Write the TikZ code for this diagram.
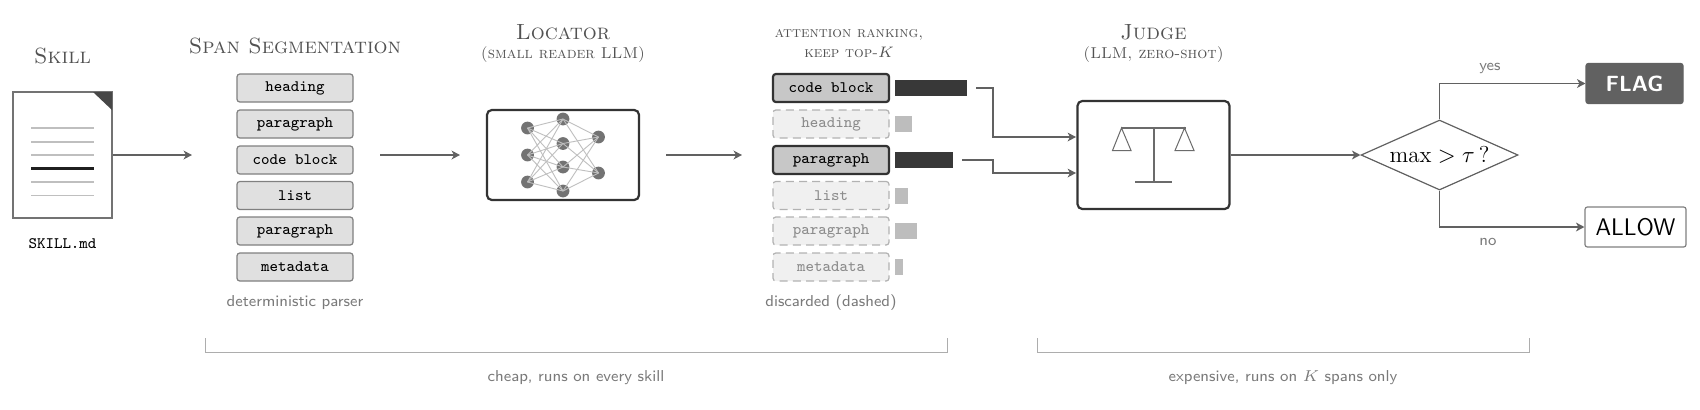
\documentclass[tikz,border=0pt]{standalone}
\usepackage{fix-cm}
\usepackage{amsmath}
\usepackage{fontspec}
\usetikzlibrary{arrows.meta,shapes.geometric}

\begin{document}
\begin{tikzpicture}[
  x=0.5pt,y=-0.5pt,
  >={Stealth[length=4.2pt,width=4.4pt,inset=1.2pt]},
  flow/.style={->,draw=black!62,line width=0.75pt},
  note/.style={text=black!52,font=\sffamily\fontsize{7.9}{9}\selectfont,inner sep=0pt},
  title/.style={text=black!68,font=\scshape\fontsize{11}{13}\selectfont,inner sep=0pt},
  subtitle/.style={text=black!68,font=\scshape\fontsize{7.9}{10}\selectfont,inner sep=0pt},
  spanbox/.style={draw=black!50,fill=black!12,line width=0.6pt,rounded corners=1.4pt,
    minimum width=58pt,minimum height=14pt,inner sep=0pt,font=\ttfamily\fontsize{8}{9}\selectfont},
  keepbox/.style={spanbox,draw=black!80,fill=black!22,line width=1.1pt},
  dropbox/.style={spanbox,draw=black!30,fill=black!6,dash pattern=on 4pt off 2.6pt,text=black!45},
  keepbar/.style={anchor=west,fill=black!78,minimum height=8pt,inner sep=0pt},
  dropbar/.style={anchor=west,fill=black!26,minimum height=8pt,inner sep=0pt},
  panel/.style={draw=black!80,fill=white,line width=1.1pt,rounded corners=2.4pt,inner sep=0pt},
  neuron/.style={circle,fill=black!55,minimum size=6.4pt,inner sep=0pt},
  synapse/.style={draw=black!25,line width=0.45pt},
  decision/.style={diamond,draw=black!62,fill=white,line width=0.6pt,aspect=2.2,inner sep=0pt,
    minimum width=78.5pt,minimum height=35pt,font=\fontsize{11.5}{13}\selectfont},
  verdict/.style={rounded corners=1.2pt,minimum height=20pt,inner sep=0pt,line width=0.6pt},
  brace/.style={draw=black!32,line width=0.5pt}
]
\useasboundingbox (0,0) rectangle (1700,409);

% skill file
\node[title] (skilltitle) at (62.5,56) {Skill};
\node[draw=black!55,fill=white,line width=0.7pt,minimum width=49.5pt,minimum height=63pt,inner sep=0pt] (doc) at (62.5,155) {};
\fill[black!72] (93,92) -- (112,92) -- (112,110) -- cycle;
\foreach \y in {128,142,155,182,195.5} {
  \draw[black!25,line width=0.6pt] (31,\y) -- (94,\y);
}
\draw[black!88,line width=1.2pt] (31,168.5) -- (94,168.5);
\node[inner sep=0pt,font=\ttfamily\fontsize{8}{9}\selectfont] (docname) at (62.5,244) {SKILL.md};

% segmentation
\node[title] (segtitle) at (295,46) {Span Segmentation};
\foreach \i/\y/\t in {1/88/heading,2/124/paragraph,3/160/code block,4/195.5/list,5/231/paragraph,6/267/metadata} {
  \node[spanbox] (seg\i) at (295,\y) {\t};
}
\node[note] (segnote) at (295,303) {deterministic parser};
\coordinate (segin) at (192,155);
\coordinate (segout) at (380,155);
\draw[flow] (doc.east) -- (segin);

% locator
\node[title] (loctitle) at (563,32) {Locator};
\node[subtitle] (locsub) at (563,55) {(small reader LLM)};
\node[panel,minimum width=76pt,minimum height=45pt] (locator) at (563,155) {};
\coordinate (locin) at (460,155);
\coordinate (locout) at (666,155);
\foreach \i/\y in {1/128,2/155,3/182} {
  \node[neuron] (a\i) at (527.5,\y) {};
}
\foreach \i/\y in {1/119,2/143.5,3/167,4/191} {
  \node[neuron] (b\i) at (563,\y) {};
}
\foreach \i/\y in {1/137,2/173} {
  \node[neuron] (c\i) at (598.5,\y) {};
}
% every neuron to every neuron of the next layer
\foreach \j in {1,...,4} {
  \foreach \i in {1,2,3} {
    \draw[synapse] (a\i.center) -- (b\j.center);
  }
  \foreach \k in {1,2} {
    \draw[synapse] (b\j.center) -- (c\k.center);
  }
}
\draw[flow] (segout) -- (locin);

% ranking
\node[subtitle,font=\scshape\fontsize{7.6}{9}\selectfont] (ranktitle) at (849,35) {attention ranking,};
\node[subtitle,font=\scshape\fontsize{7.6}{9}\selectfont] (ranksub) at (849,52) {keep top-$K$};
\coordinate (rankin) at (742,155);
\draw[flow] (locout) -- (rankin);
\foreach \i/\y/\t/\w in {2/124/heading/17,4/195.5/list/12.5,5/231/paragraph/22,6/267/metadata/8} {
  \node[dropbox] (rank\i) at (831,\y) {\t};
  \node[dropbar,minimum width=\w*0.5pt] (bar\i) at (895,\y) {};
}
\foreach \i/\y/\t/\w in {1/88/code block/72,3/160/paragraph/58} {
  \node[keepbox] (rank\i) at (831,\y) {\t};
  \node[keepbar,minimum width=\w*0.5pt] (bar\i) at (895,\y) {};
}
\node[note] (ranknote) at (831,303) {discarded (dashed)};

% judge
\node[title] (judgetitle) at (1153.5,32) {Judge};
\node[subtitle] (judgesub) at (1153.5,55) {(LLM, zero-shot)};
\node[panel,minimum width=76pt,minimum height=54pt] (judge) at (1153.5,155) {};
\draw[black!58,line width=1pt] (1121,128) -- (1186,128);
\draw[black!58,line width=1pt] (1153.5,128) -- (1153.5,182);
\draw[black!58,line width=1.2pt] (1135,182) -- (1171.5,182);
\draw[black!58,line width=0.5pt] (1121.5,128) -- (1112.5,150.5) -- (1131,150.5) -- cycle;
\draw[black!58,line width=0.5pt] (1184.5,128) -- (1175,150.5) -- (1194,150.5) -- cycle;
\coordinate (out1) at (976,88);
\coordinate (out3) at (962,160);
\coordinate (in1) at (1076,137);
\coordinate (in3) at (1076,173);
\draw[flow,line width=0.65pt] (out1) -| (993,137) -- (in1);
\draw[flow,line width=0.65pt] (out3) -| (993,173) -- (in3);

% decision
\node[decision] (gate) at (1439.5,155) {$\max > \tau\,$?};
\draw[flow] (judge.east) -- (gate.west);
\node[verdict,fill=black!62,draw=black!62,text=white,minimum width=48.5pt,font=\sffamily\bfseries\fontsize{11}{12}\selectfont] (flag) at (1634.5,83.5) {FLAG};
\node[verdict,draw=black!50,fill=white,minimum width=50.5pt,font=\sffamily\fontsize{12}{13}\selectfont] (allow) at (1635.5,227) {ALLOW};
\draw[flow,line width=0.65pt] (gate.north) |- (flag.west);
\draw[flow,line width=0.65pt] (gate.south) |- (allow.west);
\node[note] (yeslabel) at (1490,68) {yes};
\node[note] (nolabel) at (1488,242) {no};

% cost brackets
\coordinate (cheapl) at (205,338);
\coordinate (cheapr) at (947,338);
\coordinate (dearl) at (1037,338);
\coordinate (dearr) at (1529,338);
\draw[brace] (cheapl) |- (576,352) -| (cheapr);
\draw[brace] (dearl) |- (1283,352) -| (dearr);
\node[note] (cheapnote) at (576,378) {cheap, runs on every skill};
\node[note] (dearnote) at (1283,378) {expensive, runs on $K$ spans only};
\end{tikzpicture}
\end{document}
